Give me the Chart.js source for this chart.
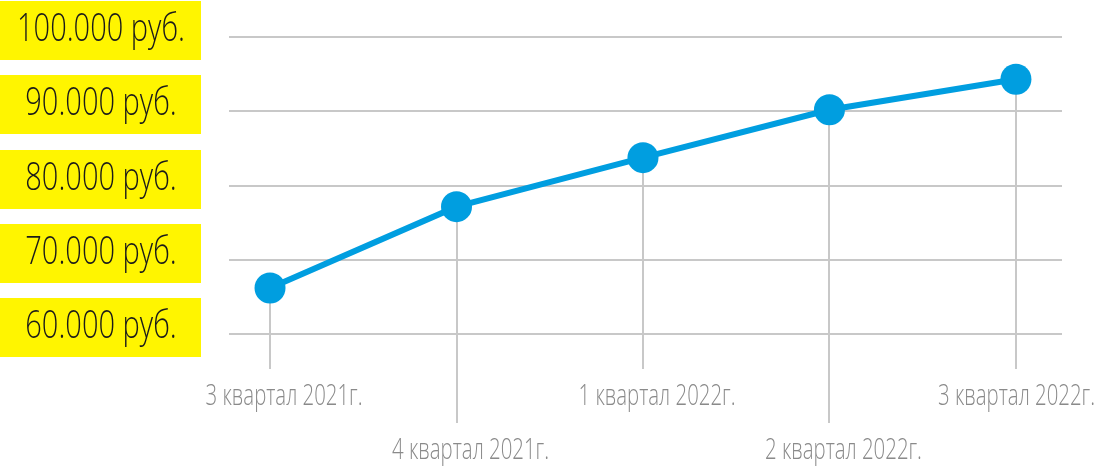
<!DOCTYPE html>
<html>
<head>
<meta charset="utf-8">
<script src="https://cdn.jsdelivr.net/npm/chart.js@4.4.1/dist/chart.umd.min.js"></script>
<style>
  html,body{margin:0;padding:0;background:#fff;}
  #wrap{width:1098px;height:468px;position:relative;}
</style>
</head>
<body>
<div id="wrap"><canvas id="c"></canvas></div>
<script>
// данные: доход по кварталам
const quarters=['3 квартал 2021г.','4 квартал 2021г.','1 квартал 2022г.','2 квартал 2022г.','3 квартал 2022г.'];
const income=[66200,77150,83750,90200,94300];
const yTicks=[60000,70000,80000,90000,100000];
const yTickLabels=['60.000 руб.','70.000 руб.','80.000 руб.','90.000 руб.','100.000 руб.'];

const BLUE='#009ee0', GRID='#c8c8c8', YEL='#fff500';
const FONT='"Open Sans", "Noto Sans", sans-serif';

// сжатый текст: обычный шрифт, сжатый по ширине
function narrowText(ctx,txt,x,y,sx,align){
  ctx.save();
  ctx.translate(x,y); ctx.scale(sx,1);
  ctx.textAlign=align||'center';
  ctx.fillText(txt,0,0);
  ctx.restore();
}

const decor={
  id:'decor',
  beforeDatasetsDraw(chart){
    const ctx=chart.ctx;
    const meta=chart.getDatasetMeta(0);
    // вертикальные выноски от точки к подписи
    ctx.save();
    ctx.strokeStyle=GRID; ctx.lineWidth=2;
    meta.data.forEach((p,i)=>{
      ctx.beginPath();
      ctx.moveTo(Math.round(p.x),p.y);
      ctx.lineTo(Math.round(p.x),i%2?423:369);
      ctx.stroke();
    });
    ctx.restore();
  },
  afterDraw(chart){
    const ctx=chart.ctx, ys=chart.scales.y;
    const meta=chart.getDatasetMeta(0);
    ctx.save();
    // подписи оси Y на жёлтых плашках
    ctx.font='300 39px '+FONT;
    ctx.textBaseline='middle';
    const syY=168/ctx.measureText('100.000 руб.').width;
    yTicks.forEach((v,i)=>{
      const gy=ys.getPixelForValue(v);
      ctx.fillStyle=YEL;
      ctx.fillRect(0,Math.round(gy-36),201,59);
      ctx.fillStyle='#1a1a1a';
      narrowText(ctx,yTickLabels[i],101,gy-7,syY);
    });
    // подписи категорий, через одну ниже
    ctx.font='300 30px '+FONT;
    ctx.fillStyle='#8a8a8a';
    const sxX=157/ctx.measureText(quarters[0]).width;
    meta.data.forEach((p,i)=>{
      const w=ctx.measureText(quarters[i]).width*sxX;
      let cx=p.x+14;
      if(cx+w/2>1095) cx=1095-w/2;
      narrowText(ctx,quarters[i],cx,i%2?450:396,sxX);
    });
    ctx.restore();
  }
};

new Chart(document.getElementById('c'),{
  type:'line',
  data:{datasets:[{
    data:income.map((v,i)=>({x:i,y:v})),
    borderColor:BLUE, backgroundColor:BLUE,
    borderWidth:6, pointRadius:15.5, pointHoverRadius:15.5,
    pointBorderWidth:0, tension:0, clip:false
  }]},
  options:{
    responsive:true, maintainAspectRatio:false, animation:false,
    layout:{padding:{top:37,bottom:134,right:36,left:0}},
    plugins:{legend:{display:false},tooltip:{enabled:false}},
    scales:{
      x:{type:'linear',display:false,min:-0.22,max:4.247},
      y:{
        min:60000,max:100000,
        afterFit(s){ s.width=229; },
        afterBuildTicks(s){ s.ticks=yTicks.map(v=>({value:v})); },
        ticks:{display:false},
        border:{display:false},
        grid:{color:GRID,lineWidth:2,drawTicks:false}
      }
    }
  },
  plugins:[decor]
});
</script>
</body>
</html>
